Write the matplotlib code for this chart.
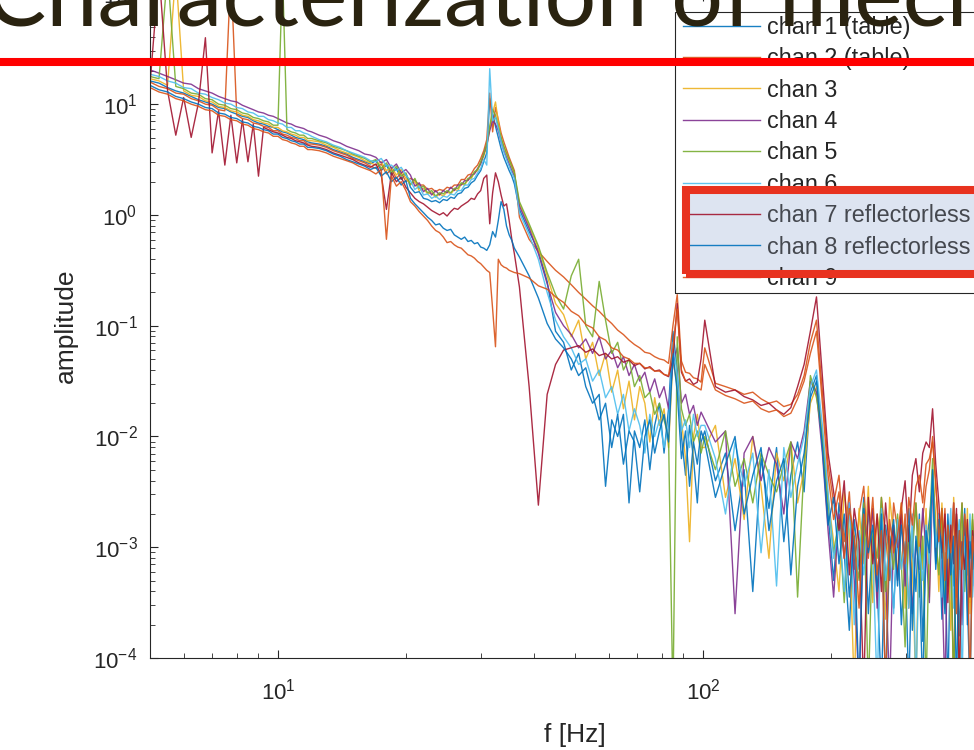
import numpy as np
import matplotlib.pyplot as plt
from matplotlib.patches import Rectangle
from matplotlib.lines import Line2D

plt.rcParams['font.family'] = ['Liberation Sans', 'DejaVu Sans']
plt.rcParams['mathtext.fontset'] = 'custom'
plt.rcParams['mathtext.rm'] = 'Liberation Sans'
plt.rcParams['mathtext.it'] = 'Liberation Sans:italic'
plt.rcParams['mathtext.bf'] = 'Liberation Sans:bold'

# frequency bins [Hz]
freq_hz = [5.0, 5.25, 5.5, 5.75, 6.0, 6.25, 6.5, 6.75, 7.0, 7.25, 7.5, 7.75, 8.0, 8.25, 8.5,
           8.75, 9.0, 9.25, 9.5, 9.75, 10.0, 10.25, 10.5, 10.75, 11.0, 11.25, 11.5, 11.75, 12.0,
           12.5, 13, 13.5, 14, 14.5, 15, 15.5, 16, 16.5, 17, 17.5, 18, 18.5, 19, 19.5, 20,
           20.5, 21, 21.5, 22, 22.5, 23, 23.5, 24, 24.5, 25, 25.5, 26, 26.5, 27, 27.5, 28,
           28.5, 29, 29.5, 30, 30.5, 31, 31.5, 32, 32.5, 33, 33.5, 34, 34.5, 35, 35.5, 36,
           37, 39, 41, 43, 45, 47, 49, 51, 53, 55, 57, 59, 61, 63, 65, 67, 69, 71, 73, 75,
           77, 79, 81, 83, 85, 87, 89, 91, 93, 95, 97, 99,
           101, 107, 113, 119, 125, 131, 137, 143, 149, 155, 161, 167, 173, 179, 185, 191,
           197, 203, 209, 215, 221, 227, 233, 239, 245, 251, 257, 263, 269, 275, 281, 287,
           293, 299, 305, 311, 317, 323, 329, 335, 341, 347, 353, 359, 365, 371, 377, 383,
           389, 395, 401, 407, 413, 419, 425, 431, 437, 443]

# amplitudes, as log10(amplitude)
chan1 = [1.21, 1.19, 1.15, 1.12, 1.10, 1.07, 1.04, 1.02, 1.00, 0.97, 0.96, 0.93, 0.91, 0.89, 0.88,
         0.85, 0.83, 0.82, 0.80, 0.79, 0.77, 0.75, 0.74, 0.72, 0.70, 0.69, 0.68, 0.66, 0.65,
         0.64, 0.62, 0.59, 0.57, 0.55, 0.52, 0.50, 0.48, 0.46, 0.49, 0.40, 0.45, 0.36, 0.42, 0.32, 0.37,
         0.25, 0.20, 0.21, 0.15, 0.14, 0.12, 0.13, 0.11, 0.14, 0.13, 0.16, 0.15, 0.19, 0.20, 0.24, 0.25,
         0.29, 0.31, 0.36, 0.40, 0.48, 0.56, 1.05, 0.92, 0.80, 0.70, 0.60, 0.52, 0.46, 0.40, 0.35, 0.28,
         0.05, -0.15, -0.32, -0.60, -1.05, -1.15, -1.40, -1.25, -1.55, -1.70, -1.62, -2.45, -1.85, -2.00,
         -1.80, -2.60, -1.95, -2.10, -1.85, -2.30, -1.90, -1.70, -2.15, -1.75, -1.05, -1.40, -2.00, -2.35,
         -1.90, -2.20, -2.60, -2.05,
         -1.95, -2.40, -2.15, -2.85, -2.30, -3.40, -2.20, -2.65, -2.10, -2.95, -2.35, -2.05, -2.50,
         -1.60, -1.45, -2.05,
         -2.70, -3.30, -2.60, -3.05, -3.75, -2.75, -3.20, -2.55, -3.60, -2.90, -3.35, -4.30, -2.80, -3.10, -3.55,
         -2.85, -3.70, -3.05, -4.30, -2.95, -3.40, -2.70, -3.85, -3.00, -2.75,
         -2.45,
         -3.15, -2.80, -3.65, -3.05, -4.30, -2.90, -3.35, -2.70, -3.80, -3.10, -2.85, -3.50, -4.30, -3.00, -2.95, -3.40]

chan2 = [1.20, 1.16, 1.14, 1.10, 1.09, 1.05, 1.03, 1.00, 0.99, 0.95, 0.94, 2.20, 0.90, 0.87, 0.86,
         0.83, 0.82, 0.80, 0.79, 0.76, 0.76, 0.73, 0.72, 0.70, 0.69, 0.67, 0.67, 0.64, 0.64,
         0.63, 0.61, 0.58, 0.56, 0.54, 0.51, 0.49, 0.47, 0.44, 0.42, 0.46, 0.37, 0.41, 0.33, 0.38, 0.30,
         0.33, 0.31, 0.27, 0.27, 0.23, 0.24, 0.21, 0.23, 0.22, 0.25, 0.24, 0.27, 0.27, 0.32, 0.32, 0.36,
         0.37, 0.42, 0.45, 0.51, 0.58, 0.68, 1.10, 0.75, 0.97, 0.86, 0.74, 0.66, 0.59, 0.52, 0.46, 0.40,
         -0.02, -0.22, -0.33, -0.42, -0.50, -0.56, -0.63, -0.70, -0.76, -0.82, -0.87, -0.93, -0.98, -1.04,
         -1.08, -1.13, -1.17, -1.20, -1.24, -1.25, -1.28, -1.30, -1.31, -1.34, -1.00, -0.72, -1.32, -1.42,
         -1.43, -1.47, -1.48, -1.51,
         -1.20, -1.52, -1.55, -1.58, -1.62, -1.60, -1.66, -1.70, -1.68, -1.73, -1.71, -1.62, -1.45, -1.15,
         -0.95, -1.60, -2.25,
         -2.60, -2.35, -2.95, -2.50, -3.20, -2.70, -2.45, -3.10, -2.65, -3.45, -2.55, -2.90, -3.30, -2.60,
         -2.85, -3.20, -2.70, -3.55, -2.95, -2.60, -3.05, -2.75, -2.45, -2.30,
         -2.00,
         -2.45, -2.80, -3.10, -2.65, -3.35, -2.85, -4.30, -2.70, -3.00, -2.60, -3.25, -2.90, -3.50, -2.75, -3.05, -2.80]

chan3 = [1.23, 1.21, 1.17, 2.20, 1.12, 1.08, 1.07, 1.03, 1.02, 0.98, 0.97, 0.94, 0.93, 0.90, 0.89,
         0.86, 0.85, 0.83, 0.82, 0.79, 0.79, 0.76, 0.75, 0.73, 0.72, 0.70, 0.70, 0.67, 0.67,
         0.66, 0.63, 0.61, 0.58, 0.56, 0.54, 0.52, 0.49, 0.47, 0.45, 0.48, 0.40, 0.43, 0.36, 0.41, 0.33,
         0.28, 0.30, 0.22, 0.24, 0.19, 0.20, 0.16, 0.19, 0.17, 0.21, 0.19, 0.23, 0.22, 0.28, 0.27, 0.32,
         0.33, 0.38, 0.40, 0.47, 0.53, 0.62, 0.78, 0.92, 1.02, 0.84, 0.70, 0.62, 0.55, 0.49, 0.43, 0.37,
         0.10, -0.10, -0.30, -0.55, -0.80, -0.90, -1.10, -0.95, -1.30, -1.15, -1.45, -1.25, -1.60, -1.40,
         -1.75, -1.50, -1.85, -1.55, -1.70, -2.05, -1.65, -1.90, -1.75, -2.10, -1.30, -1.55, -1.85, -2.20,
         -2.95, -2.00, -1.80, -2.10,
         -2.10, -1.90, -2.55, -2.20, -2.75, -2.00, -2.45, -3.10, -2.15, -2.40, -2.05, -2.60, -2.30,
         -1.70, -1.55, -1.95,
         -2.55, -2.95, -3.40, -2.50, -2.85, -4.30, -2.65, -3.15, -2.45, -3.50, -2.70, -3.00, -3.65, -2.55, -2.90,
         -3.25, -2.60, -3.55, -2.90, -3.15, -4.30, -2.75, -3.20, -2.65, -3.45,
         -2.30,
         -2.75, -3.40, -2.60, -3.20, -2.85, -3.75, -2.55, -3.05, -4.30, -2.80, -3.30, -2.65, -3.60, -2.90, -3.15, -2.70]

chan4 = [1.31, 1.28, 1.25, 1.22, 1.19, 1.18, 1.14, 1.12, 1.10, 1.07, 1.05, 1.03, 1.02, 0.99, 0.97,
         0.95, 0.93, 0.92, 0.90, 0.89, 0.87, 0.85, 0.83, 0.82, 0.80, 0.79, 0.78, 0.76, 0.75,
         0.72, 0.70, 0.67, 0.65, 0.62, 0.60, 0.58, 0.55, 0.54, 0.52, 0.47, 0.50, 0.42, 0.46, 0.38, 0.41,
         0.36, 0.26, 0.29, 0.21, 0.24, 0.18, 0.22, 0.18, 0.22, 0.20, 0.25, 0.22, 0.27, 0.27, 0.31, 0.31,
         0.36, 0.37, 0.42, 0.46, 0.55, 0.63, 0.76, 0.85, 0.82, 0.76, 0.66, 0.58, 0.52, 0.46, 0.40, 0.35,
         0.08, -0.12, -0.35, -0.62, -0.88, -1.00, -1.08, -1.20, -1.12, -1.25, -1.10, -1.30, -1.22, -1.38,
         -1.28, -1.45, -1.35, -1.50, -1.42, -1.60, -1.48, -1.65, -1.55, -1.75, -1.35, -1.20, -1.70, -1.62,
         -1.80, -1.72, -1.90, -1.78,
         -1.85, -2.05, -1.95, -3.60, -2.15, -2.00, -2.40, -2.10, -2.25, -2.70, -2.05, -2.20, -1.95,
         -1.50, -1.60, -2.15,
         -2.85, -3.45, -2.70, -3.10, -2.60, -3.30, -4.30, -2.75, -3.00, -2.65, -3.55, -2.80, -3.25, -4.30, -2.85,
         -3.00, -2.70, -3.35, -2.85, -3.60, -2.95, -3.20, -2.65, -3.05, -3.50,
         -2.40,
         -3.05, -2.70, -3.30, -4.30, -2.85, -3.15, -2.60, -3.45, -2.95, -3.70, -2.75, -3.10, -2.85, -3.35, -2.70, -3.00]

chan5 = [1.25, 1.23, 2.20, 1.16, 1.14, 1.10, 1.09, 1.05, 1.04, 1.00, 0.99, 0.96, 0.95, 0.92, 0.91,
         0.88, 0.87, 0.85, 0.84, 0.81, 0.81, 2.20, 0.77, 0.75, 0.74, 0.72, 0.72, 0.69, 0.69,
         0.67, 0.65, 0.62, 0.60, 0.58, 0.55, 0.53, 0.51, 0.48, 0.50, 0.42, 0.47, 0.38, 0.44, 0.35, 0.38,
         0.27, 0.33, 0.24, 0.26, 0.20, 0.22, 0.17, 0.20, 0.19, 0.22, 0.20, 0.24, 0.24, 0.29, 0.28, 0.33,
         0.34, 0.39, 0.41, 0.48, 0.55, 0.64, 0.80, 0.95, 0.90, 0.80, 0.70, 0.62, 0.56, 0.50, 0.44, 0.38,
         0.12, -0.08, -0.28, -0.52, -0.72, -0.85, -0.55, -0.40, -1.00, -1.10, -0.60, -0.95, -1.25, -1.15,
         -1.40, -1.30, -1.55, -1.45, -1.65, -1.60, -1.80, -1.70, -1.85, -2.00, -4.40, -1.10, -1.75, -1.90,
         -1.80, -2.05, -1.95, -2.15,
         -2.00, -2.30, -1.95, -2.45, -2.20, -2.60, -2.15, -2.35, -2.50, -2.25, -2.05, -3.45, -2.25,
         -1.45, -1.65, -2.00,
         -2.60, -3.05, -2.75, -3.50, -2.65, -2.95, -3.30, -2.60, -4.30, -2.85, -3.10, -2.55, -3.40, -2.90, -3.20,
         -2.70, -3.15, -3.90, -2.80, -3.05, -2.60, -3.45, -2.90, -4.30, -2.85,
         -2.20,
         -2.90, -3.25, -2.65, -3.55, -2.80, -3.00, -4.30, -2.75, -3.20, -2.60, -3.40, -2.95, -3.10, -2.70, -3.55, -2.85]

chan6 = [1.27, 1.25, 1.21, 1.19, 1.15, 1.14, 1.10, 1.09, 1.06, 1.04, 1.01, 1.00, 0.97, 0.96, 0.93,
         0.92, 0.89, 0.89, 0.86, 0.85, 0.83, 0.82, 0.79, 0.79, 0.76, 0.76, 0.74, 0.73, 0.71,
         0.68, 0.66, 0.63, 0.61, 0.58, 0.56, 0.54, 0.52, 0.49, 0.48, 0.51, 0.44, 0.45, 0.40, 0.43, 0.36,
         0.31, 0.23, 0.26, 0.18, 0.19, 0.15, 0.17, 0.14, 0.17, 0.16, 0.19, 0.18, 0.22, 0.22, 0.27, 0.27,
         0.32, 0.33, 0.38, 0.42, 0.50, 0.45, 1.32, 0.85, 0.88, 0.78, 0.66, 0.57, 0.50, 0.44, 0.38, 0.33,
         0.02, -0.18, -0.40, -0.70, -0.95, -1.10, -1.20, -1.35, -1.30, -1.50, -1.40, -1.65, -1.55, -1.80,
         -1.62, -1.95, -1.75, -1.90, -2.15, -1.80, -2.00, -1.85, -2.10, -1.90, -1.15, -1.45, -1.95, -1.85,
         -2.10, -1.80, -2.00, -1.90,
         -1.90, -2.20, -2.70, -2.05, -2.45, -2.15, -3.05, -2.30, -3.35, -2.10, -2.55, -2.25, -2.00,
         -1.55, -1.40, -1.90,
         -2.50, -3.10, -2.80, -3.40, -2.60, -3.70, -2.85, -3.25, -2.70, -3.05, -4.30, -2.65, -3.30, -2.95, -3.60,
         -2.75, -3.20, -2.95, -3.55, -2.70, -4.30, -3.00, -3.30, -2.80, -3.15,
         -2.35,
         -3.00, -2.70, -3.45, -2.85, -3.10, -2.65, -3.55, -3.00, -2.75, -4.30, -2.90, -3.25, -2.70, -3.45, -2.95, -3.20]

chan7 = [1.18, 2.20, 1.12, 0.72, 1.06, 0.70, 1.01, 1.60, 0.56, 0.94, 0.45, 0.90, 0.47, 0.86, 0.48,
         0.82, 0.35, 0.79, 0.77, 0.75, 0.74, 0.72, 0.70, 0.69, 0.67, 0.66, 0.65, 0.63, 0.62,
         0.61, 0.59, 0.56, 0.54, 0.52, 0.50, 0.47, 0.45, 0.43, 0.46, 0.36, 0.05, 0.38, 0.30, 0.34, 0.25,
         0.20, 0.15, 0.12, 0.10, 0.07, 0.04, 0.02, 0.00, 0.02, -0.01, 0.03, 0.06, 0.05, 0.08, 0.10, 0.12,
         0.15, 0.14, 0.19, 0.22, 0.33, 0.36, -0.08, 0.20, 0.38, 0.30, 0.18, 0.08, 0.10, -0.05, -0.22, -0.35,
         -0.65, -1.55, -2.62, -1.62, -1.35, -1.22, -1.20, -1.18, -1.24, -1.21, -1.27, -1.25, -1.30, -1.28,
         -1.33, -1.31, -1.36, -1.34, -1.39, -1.37, -1.41, -1.40, -1.44, -1.46, -1.30, -0.80, -1.42, -1.50,
         -1.48, -1.53, -1.51, -1.30,
         -0.95, -1.55, -1.60, -1.58, -1.64, -1.67, -1.72, -1.70, -1.76, -1.80, -1.74, -1.55, -1.35, -1.05,
         -0.74, -1.45, -2.15,
         -2.50, -2.85, -2.40, -3.25, -2.65, -2.95, -4.30, -2.55, -3.15, -2.70, -3.40, -2.60, -3.05, -2.80,
         -3.30, -2.65, -2.40, -2.95, -2.35, -2.20, -2.50, -2.15, -2.05, -2.10,
         -1.75,
         -2.25, -2.60, -3.05, -2.70, -3.50, -2.80, -3.15, -2.65, -4.30, -2.95, -3.20, -2.75, -3.45, -2.85, -3.10, -2.70]

chan8 = [1.17, 1.13, 1.11, 1.07, 1.05, 1.02, 1.00, 0.97, 0.96, 0.92, 0.91, 0.88, 0.87, 0.84, 0.83,
         0.80, 0.79, 0.77, 0.76, 0.73, 0.73, 0.70, 0.69, 0.67, 0.66, 0.64, 0.64, 0.61, 0.61,
         0.60, 0.58, 0.55, 0.53, 0.50, 0.48, 0.46, 0.44, 0.41, 0.43, 0.35, 0.39, 0.30, 0.34, 0.27, 0.31,
         0.15, 0.10, 0.06, 0.02, -0.02, -0.05, -0.09, -0.08, -0.12, -0.14, -0.13, -0.18, -0.20, -0.22, -0.20, -0.24,
         -0.23, -0.26, -0.25, -0.29, -0.30, -0.32, -0.27, -0.15, -0.20, -0.05, 0.12, 0.05, -0.10, -0.18, -0.23, -0.30,
         -0.38, -0.55, -0.75, -0.98, -1.12, -1.20, -1.30, -1.45, -1.38, -1.62, -1.85, -1.70, -2.10, -1.80,
         -2.25, -1.95, -2.05, -2.50, -2.00, -1.85, -2.15, -1.95, -1.80, -2.05, -1.25, -1.60, -2.20, -1.95,
         -2.45, -2.05, -2.25, -1.95,
         -2.05, -2.55, -2.25, -2.00, -2.70, -2.35, -2.10, -2.85, -2.40, -2.20, -3.25, -2.45, -2.15,
         -1.65, -1.50, -2.10,
         -2.80, -2.55, -3.15, -2.70, -3.45, -2.90, -4.30, -2.65, -3.05, -2.80, -3.40, -2.70, -4.30, -3.00, -2.75,
         -3.35, -2.80, -3.10, -2.65, -3.75, -2.90, -3.25, -4.30, -2.85, -3.05,
         -2.30,
         -3.20, -2.75, -3.05, -3.60, -2.70, -3.25, -2.90, -4.30, -2.85, -3.15, -2.65, -3.70, -2.95, -3.20, -2.80, -3.35]

chan9 = [1.15, 1.11, 1.09, 1.05, 1.03, 1.00, 0.98, 0.95, 0.94, 0.90, 0.89, 0.86, 0.85, 0.82, 0.81,
         0.78, 0.77, 0.75, 0.74, 0.71, 0.71, 0.68, 0.67, 0.65, 0.64, 0.62, 0.62, 0.59, 0.59,
         0.58, 0.56, 0.53, 0.51, 0.49, 0.47, 0.44, 0.42, 0.40, 0.37, 0.41, -0.22, 0.35, 0.26, 0.30, 0.22,
         0.12, 0.08, 0.03, -0.01, -0.05, -0.10, -0.14, -0.16, -0.20, -0.25, -0.24, -0.27, -0.29, -0.30, -0.33, -0.36,
         -0.37, -0.39, -0.42, -0.44, -0.47, -0.50, -0.52, -0.85, -1.19, -0.40, -0.45, -0.47, -0.48, -0.50, -0.51, -0.52,
         -0.53, -0.57, -0.64, -0.67, -0.74, -0.79, -0.87, -0.91, -0.99, -1.02, -1.10, -1.13, -1.20, -1.22,
         -1.28, -1.30, -1.34, -1.34, -1.38, -1.38, -1.41, -1.41, -1.44, -1.45, -1.20, -0.85, -1.40, -1.50,
         -1.52, -1.54, -1.56, -1.58,
         -1.35, -1.58, -1.63, -1.66, -1.70, -1.68, -1.75, -1.78, -1.76, -1.82, -1.79, -1.66, -1.50, -1.25,
         -1.05, -1.70, -2.35,
         -2.75, -2.50, -3.10, -2.65, -2.90, -3.55, -2.70, -3.00, -2.55, -3.25, -2.85, -4.30, -2.75, -3.05,
         -2.90, -2.60, -3.15, -2.55, -2.80, -2.45, -2.35, -2.60, -2.25, -2.20,
         -2.05,
         -2.40, -2.95, -2.65, -3.30, -2.80, -3.05, -2.60, -3.60, -2.85, -3.20, -2.70, -3.00, -4.30, -2.90, -3.15, -2.75]

labels = ['chan 1 (table)', 'chan 2 (table)', 'chan 3', 'chan 4', 'chan 5', 'chan 6',
          'chan 7 reflectorless', 'chan 8 reflectorless', 'chan 9']
colors = ['#0072BD', '#D95319', '#EDB120', '#7E2F8E', '#77AC30', '#4DBEEE',
          '#A2142F', '#0072BD', '#D95319']
channels = [chan1, chan2, chan3, chan4, chan5, chan6, chan7, chan8, chan9]

W, H = 974, 750
fig = plt.figure(figsize=(W / 100, H / 100), dpi=100)
fig.patch.set_facecolor('white')
ax = fig.add_axes([150 / W, 92 / H, 850 / W, 664.6 / H])
ax.set_facecolor('none')

f = np.array(freq_hz)
for vals, lab, c in zip(channels, labels, colors):
    ax.plot(f, 10 ** np.array(vals), color=c, lw=1.0, alpha=0.9, label=lab)

ax.set_xscale('log')
ax.set_yscale('log')
ax.set_xlim(5, 500)
ax.set_ylim(1e-4, 1e2)
ax.set_xlabel('f [Hz]', fontsize=19, color='#262626', labelpad=13)
ax.set_ylabel('amplitude', fontsize=19, color='#262626', labelpad=11)
ax.tick_params(which='both', direction='in', top=True, right=True, colors='#262626',
               labelsize=16)
ax.tick_params(which='major', length=6, width=0.8)
ax.tick_params(which='minor', length=3.5, width=0.6)
ax.tick_params(axis='x', which='major', pad=15)
ax.tick_params(axis='y', which='major', pad=9)
for s in ax.spines.values():
    s.set_color('#262626')
    s.set_linewidth(0.8)

# legend entries placed without frame; the box is drawn separately
leg = ax.legend(loc='lower left', bbox_to_anchor=(683 / W, 1 - 290 / H),
                bbox_transform=fig.transFigure, fontsize=16.8, frameon=False,
                borderpad=0, labelspacing=0.36, handlelength=3.3,
                handletextpad=0.3, borderaxespad=0)
for i, t in enumerate(leg.get_texts()):
    t.set_color('#45484f' if i in (6, 7) else '#262626')
fig.add_artist(Rectangle((675 / W, 1 - 293 / H), 330 / W, 281 / H,
                         transform=fig.transFigure, facecolor='none',
                         edgecolor='#262626', lw=0.8, zorder=1))

# slide title, cut at the top of the image
fig.text(-15 / W, 1 - 25 / H, 'Characterization of mech', fontsize=66,
         family=['Lato', 'DejaVu Sans'], color='#2a2310', ha='left', va='baseline', zorder=10)

# slide annotations: red line and highlight box over the legend
fig.add_artist(Line2D([0, 1], [1 - 62 / H, 1 - 62 / H], transform=fig.transFigure,
                      color='#ff0000', lw=5.8, zorder=12))
fig.add_artist(Rectangle((686 / W, 1 - 274 / H), (1000 - 686) / W, 84 / H,
                         transform=fig.transFigure, facecolor='#dde4f1',
                         edgecolor='none', zorder=-1))
fig.add_artist(Rectangle((686 / W, 1 - 274 / H), (1000 - 686) / W, 84 / H,
                         transform=fig.transFigure, facecolor='none',
                         edgecolor='#e8321f', lw=5.8, zorder=11))

fig.savefig('out.png', dpi=100)
